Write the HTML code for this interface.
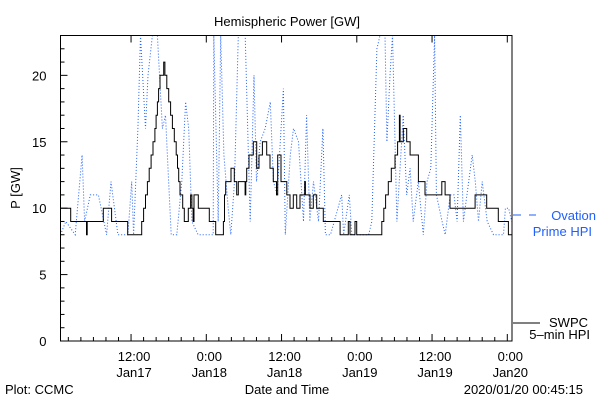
<!DOCTYPE html>
<html><head><meta charset="utf-8"><style>
body{margin:0;background:#fff;}
svg text{font-family:"Liberation Sans",sans-serif;font-size:13px;}
</style></head><body>
<svg id="chart" width="600" height="400" viewBox="0 0 600 400" xmlns="http://www.w3.org/2000/svg">
<rect width="600" height="400" fill="#fff"/>
<text x="287" y="26" text-anchor="middle" font-size="14">Hemispheric Power [GW]</text>
<text x="0" y="0" transform="translate(20,188) rotate(-90)" text-anchor="middle">P [GW]</text>
<text x="287" y="394" text-anchor="middle">Date and Time</text>
<text x="5" y="394">Plot: CCMC</text>
<text x="583" y="394" text-anchor="end">2020/01/20 00:45:15</text>
<g id="ticks"></g>
<g id="series"></g>
<rect x="60.5" y="35.5" width="451.5" height="305.5" fill="none" stroke="#000" stroke-width="1"/>
<line x1="513" y1="215" x2="536" y2="215" stroke="#1f5fff" stroke-width="1" stroke-dasharray="8,8"/>
<text x="596" y="220" text-anchor="end" fill="#1f5fff">Ovation</text>
<text x="592" y="236" text-anchor="end" fill="#1f5fff">Prime HPI</text>
<line x1="513" y1="323" x2="540" y2="323" stroke="#000" stroke-width="1"/>
<text x="588" y="327" text-anchor="end">SWPC</text>
<text x="590" y="339" text-anchor="end">5–min HPI</text>
</svg>
<script>
const yTickValues=[0,5,10,15,20];
const xTickHours=[12,24,36,48,60,72];
const xTickTimes=["12:00","0:00","12:00","0:00","12:00","0:00"];
const xTickDates=["Jan17","Jan18","Jan18","Jan19","Jan19","Jan20"];
const swpcTimes=[0.75,2.38,4.9,5.0,7.58,8.9,9.2,11.47,13.7,14.0,14.3,14.6,14.9,15.2,15.5,15.8,16.0,16.2,16.4,16.62,17.2,17.4,17.7,18.0,18.3,18.6,18.9,19.2,19.4,19.6,19.8,20.24,20.5,21.13,21.5,21.7,21.9,22.04,22.73,24.48,25.5,26.72,26.9,27.1,27.94,28.47,28.85,29.11,30.18,30.3,30.45,30.81,31.5,32.04,32.41,32.94,33.64,34.16,34.69,35.2,35.39,35.92,36.83,37.35,37.88,38.42,38.95,39.7,39.8,40.54,41.07,41.6,42.66,45.33,46.65,46.92,47.72,47.99,51.98,52.3,52.6,53.03,53.5,54.1,54.5,54.79,54.9,55.42,55.96,56.5,57.82,58.88,61.55,62.08,62.87,66.86,68.72,70.57,72.17,72.75];
const swpcValues=[10,9,8,9,10,9,9,8,9,10,11,12,13,14,15,16,17,18,19,20,21,20,19,18,17,16,15,14,13,12,11,10,9,10,11,10,9,11,10,9,8,9,11,12,13,12,11,12,11,12,13,14,15,13,14,15,14,13,12,11,14,12,11,10,11,10,11,12,11,10,11,10,9,8,9,8,9,8,9,10,11,12,13,14,15,17,15,16,15,14,12,11,12,11,10,11,10,9,8,8];
const ovationTimes=[0.75,1.6,3.1,4.2,4.6,5.5,6.8,8.1,8.8,9.9,11.5,12.1,12.4,13.1,13.5,14.3,14.7,15.4,16.2,17.0,17.5,17.9,18.4,19.3,20.1,20.7,21.2,21.7,22.7,25.1,25.2,25.9,26.3,26.8,27.5,27.9,28.5,29.1,30.2,31.0,31.6,32.0,32.6,33.4,34.2,34.7,35.3,36.3,36.6,37.4,37.9,38.7,39.5,40.0,40.5,41.1,41.9,42.6,43.0,43.8,45.6,45.9,46.8,47.2,49.9,50.4,51.2,51.7,52.5,52.8,53.3,53.7,54.4,55.4,55.96,56.5,57.0,57.8,58.6,59.2,59.8,60.4,60.7,61.6,62.1,62.9,63.5,64.0,64.5,65.0,66.4,66.9,67.4,68.0,68.8,69.8,71.4,71.7,72.2,72.7];
const ovationValues=[8,9,8,14,9,11,11,8,12,8,8,12,8,16,23,16,20,23,23,16,17,13,8,8,12,18,16,9,8,8,23,9,23,14,10,8,12,23,23,9,20,12,15,16,18,12,11,19,8,14,16,15,9,17,9,12,9,16,8,8,11,8,11,8,8,9,22,23,23,15,20,23,9,17,11,13,9,12,8,12,13,23,11,9,8,11,11,9,17,9,14,12,9,12,9,8,8,10,10,9];
const NS="http://www.w3.org/2000/svg";
const X0=60.5,X1=512,T0=0.75,T1=72.75,Y0=341,Y1=35.5,V0=0,V1=23;
function xs(t){return X0+(t-T0)/(T1-T0)*(X1-X0);}
function ys(v){return Y0-(v-V0)/(V1-V0)*(Y0-Y1);}
const tg=document.getElementById('ticks');
function mk(tag,attrs,parent){const e=document.createElementNS(NS,tag);for(const k in attrs)e.setAttribute(k,attrs[k]);parent.appendChild(e);return e;}
for(let v=0;v<=23;v++){
  const major=v%5===0;
  const l=mk('line',{x1:X0,x2:X0+(major?7:4),y1:ys(v),y2:ys(v),stroke:'#000'},tg);
  
  
}
yTickValues.forEach(v=>{
  const t=mk('text',{x:X0-14,y:ys(v)+5,'text-anchor':'end'},tg);
  
  
  t.textContent=v;
});
for(let h=2;h<=72;h+=2){
  const major=h%12===0;
  const l=mk('line',{x1:xs(h),x2:xs(h),y1:Y0,y2:Y0-(major?7:4),stroke:'#000'},tg);
  
  
  if(major){const l2=mk('line',{x1:xs(h),x2:xs(h),y1:Y1,y2:Y1+7,stroke:'#000'},tg);
  
  }
}
xTickHours.forEach((h,i)=>{
  const t=mk('text',{x:xs(h)+3,y:361,'text-anchor':'middle'},tg);
  
  
  t.textContent=xTickTimes[i];
  const d=mk('text',{x:xs(h)+3,y:377,'text-anchor':'middle'},tg);
  
  
  d.textContent=xTickDates[i];
});
const sg=document.getElementById('series');
let pb='';
ovationTimes.forEach((t,i)=>{pb+=(i?'L':'M')+xs(t).toFixed(1)+','+ys(Math.min(ovationValues[i],V1)).toFixed(1);});
const ob=mk('path',{d:pb,fill:'none',stroke:'#1f5fff','stroke-width':1,'stroke-dasharray':'1,2'},sg);


let ps='';
swpcTimes.forEach((t,i)=>{
  if(i===0)ps+='M'+xs(t).toFixed(1)+','+ys(swpcValues[i]).toFixed(1);
  else ps+='L'+xs(t).toFixed(1)+','+ys(swpcValues[i-1]).toFixed(1)+'L'+xs(t).toFixed(1)+','+ys(swpcValues[i]).toFixed(1);
});
const sb=mk('path',{d:ps,fill:'none',stroke:'#000','stroke-width':1},sg);


</script>
</body></html>
